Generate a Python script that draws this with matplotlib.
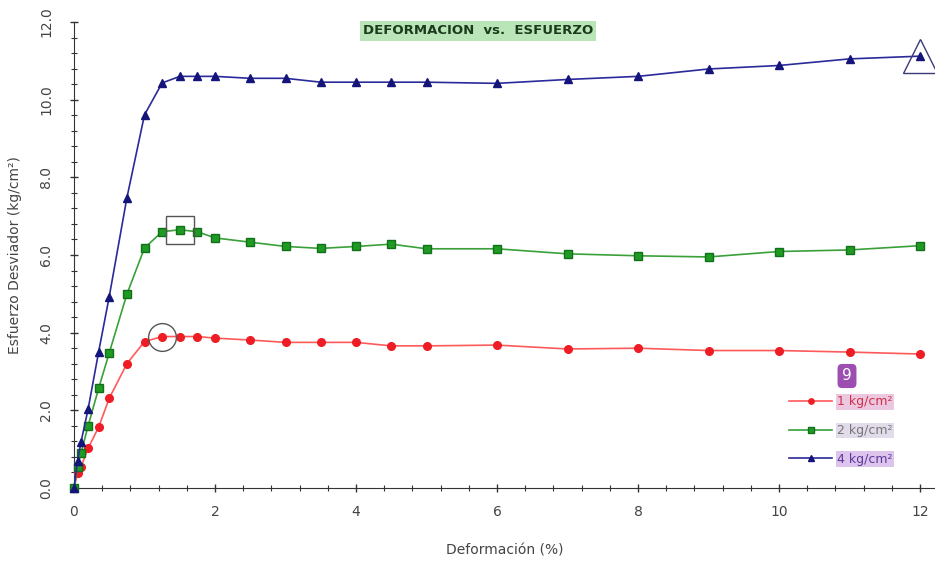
import matplotlib
matplotlib.use('Agg')
import matplotlib.pyplot as plt
import numpy as np

# deformacion (%) y esfuerzo desviador (kg/cm2) para cada presion de confinamiento
strain=[0,0.05,0.1,0.2,0.35,0.5,0.75,1.0,1.25,1.5,1.75,2.0,2.5,3,3.5,4,4.5,5,6,7,8,9,10,11,12]
s1=[0,0.38,0.55,1.02,1.57,2.31,3.2,3.77,3.9,3.9,3.9,3.86,3.81,3.75,3.75,3.75,3.66,3.66,3.68,3.58,3.6,3.54,3.54,3.5,3.45]
s2=[0,0.55,0.9,1.6,2.57,3.48,4.99,6.18,6.6,6.65,6.6,6.44,6.33,6.22,6.17,6.22,6.28,6.16,6.16,6.03,5.98,5.95,6.09,6.13,6.24]
s4=[0,0.7,1.19,2.03,3.51,4.93,7.47,9.61,10.43,10.6,10.6,10.6,10.55,10.55,10.45,10.45,10.45,10.45,10.42,10.52,10.6,10.79,10.88,11.05,11.12]
labels=['1 kg/cm\u00b2','2 kg/cm\u00b2','4 kg/cm\u00b2']

# puntos de falla marcados
peak_idx=[8,9,24]

fig=plt.figure(figsize=(9.35,5.61),dpi=100)
ax=fig.add_axes([74/935.,1-488/561.,1-74/935.,(488-22)/561.])

ax.plot(strain,s1,color='#ff5a5a',lw=1.2,marker='o',ms=5.5,mfc='#ee1c24',mec='#ee1c24',label=labels[0],clip_on=False,zorder=3)
ax.plot(strain,s2,color='#3aa03a',lw=1.2,marker='s',ms=5.5,mfc='#1f9a22',mec='#11701a',label=labels[1],clip_on=False,zorder=3)
ax.plot(strain,s4,color='#2a2a9a',lw=1.2,marker='^',ms=6,mfc='#14147a',mec='#14147a',label=labels[2],clip_on=False,zorder=3)

ax.plot(strain[peak_idx[0]],s1[peak_idx[0]],marker='o',ms=20,mfc='none',mec='#555555',mew=1.0,clip_on=False,zorder=4)
ax.plot(strain[peak_idx[1]],s2[peak_idx[1]],marker='s',ms=20,mfc='none',mec='#555555',mew=1.0,clip_on=False,zorder=4)
ax.plot(strain[peak_idx[2]],s4[peak_idx[2]],marker='^',ms=24,mfc='none',mec='#3a3a7a',mew=1.0,clip_on=False,zorder=4)

ax.set_xlim(0,(935-74)/70.5)
ax.set_ylim(0,12)
ax.set_xticks(np.arange(0,13,2))
ax.set_xticks(np.arange(0,12.3,0.4),minor=True)
ax.set_yticks(np.arange(0,12.1,2))
ax.set_yticks(np.arange(0,12.1,0.4),minor=True)
ax.set_yticklabels(['%.1f'%v for v in np.arange(0,12.1,2)],rotation=90,va='center')
ax.tick_params(axis='both',which='major',direction='inout',length=6,width=1,labelsize=10,labelcolor='#444444',color='#333333')
ax.tick_params(axis='both',which='minor',direction='inout',length=4,width=0.8,color='#333333')
ax.tick_params(axis='x',pad=9)
ax.tick_params(axis='y',pad=12)
ax.spines['top'].set_visible(False)
ax.spines['right'].set_visible(False)
ax.spines['left'].set_color('#333333')
ax.spines['bottom'].set_color('#333333')

ax.set_xlabel('Deformaci\u00f3n (%)',fontsize=10,color='#444444',labelpad=18)
ax.set_ylabel('Esfuerzo Desviador (kg/cm\u00b2)',fontsize=10,color='#444444',labelpad=12)

fig.text(478/935.,1-31/561.,'DEFORMACION  vs.  ESFUERZO',fontsize=9.5,fontweight='bold',color='#1c3a1c',
         ha='center',va='center',bbox=dict(boxstyle='square,pad=0.25',fc='#b9e5b9',ec='none'))

leg=ax.legend(loc='upper left',bbox_to_anchor=(778/935.,1-384/561.),bbox_transform=fig.transFigure,
              frameon=False,fontsize=9,handlelength=3.4,handletextpad=0.4,labelspacing=1.25,markerscale=0.7)
txtcol=['#d0304a','#777777','#5a3a9a']
bgcol=['#ecc8e0','#e2dcea','#dcc4ec']
for t,c,b in zip(leg.get_texts(),txtcol,bgcol):
    t.set_color(c)
    t.set_bbox(dict(boxstyle='square,pad=0.1',fc=b,ec='none'))

fig.text(847/935.,1-376/561.,'9',fontsize=11,color='white',ha='center',va='center',
         bbox=dict(boxstyle='round,pad=0.3',fc='#9c4fb0',ec='none'))

fig.savefig('out.png',dpi=100)
